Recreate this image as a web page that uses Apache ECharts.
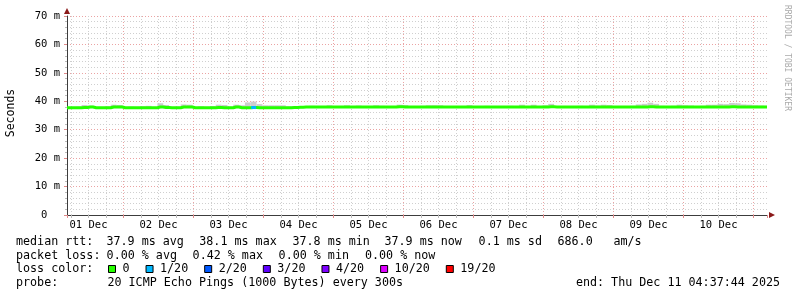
<!DOCTYPE html>
<html><head><meta charset="utf-8">
<script src="https://cdn.jsdelivr.net/npm/echarts@6/dist/echarts.min.js"></script>
<style>html,body{margin:0;padding:0;background:#fff}#c{width:797px;height:297px}</style>
</head><body><div id="c"></div>
<script>
// time axis in hours since 01 Dec 00:00
const START_HOUR = 4 + 37/60 + 44/3600;   // 01 Dec 04:37:44
const END_HOUR = START_HOUR + 240;         // 11 Dec 04:37:44
const STEP_HOURS = 2;

// median RTT (ms) per 2-hour sample
const median = [
37.75,37.75,37.75,37.8,38.0,37.75,37.75,37.75,38.0,38.0,
37.75,37.75,37.75,37.75,37.75,37.75,38.0,37.8,37.75,37.75,
38.0,38.0,37.75,37.75,37.75,37.75,37.8,37.75,37.75,38.0,
37.75,37.75,37.8,37.75,37.75,37.75,37.75,37.75,37.75,37.8,
37.9,38.0,38.0,38.0,38.0,38.0,38.0,38.0,38.0,38.0,
38.0,38.0,38.0,38.0,38.0,38.0,38.0,38.05,38.0,38.0,
38.0,38.0,38.0,38.0,38.0,38.0,38.0,38.0,38.0,38.0,
38.0,38.0,38.0,38.0,38.0,38.0,38.0,38.0,38.0,38.0,
38.0,38.0,38.0,38.05,38.0,38.0,38.0,38.0,38.0,38.0,
38.0,38.0,38.0,38.0,38.0,38.0,38.0,38.0,38.0,38.0,
38.05,38.0,38.0,38.0,38.0,38.0,38.0,38.0,38.0,38.0,
38.0,38.0,38.0,38.0,38.05,38.0,38.0,38.0,38.0,38.0,
38.0
];
// smoke: highest ping per sample (ms)
const smokeHi = [
38.0,38.0,38.1,38.7,38.5,38.0,38.0,38.2,38.8,38.7,
38.0,38.1,38.0,38.2,38.4,38.0,39.3,38.7,38.0,38.1,
38.9,38.8,38.0,38.2,38.0,38.3,38.8,38.7,38.1,38.8,
38.6,39.6,39.9,39.0,38.6,38.6,38.6,38.6,38.2,38.3,
38.2,38.3,38.4,38.2,38.3,38.6,38.2,38.3,38.6,38.2,
38.5,38.2,38.3,38.6,38.4,38.2,38.3,38.8,38.7,38.2,
38.3,38.4,38.6,38.6,38.6,38.2,38.3,38.2,38.3,38.7,
38.2,38.3,38.4,38.2,38.2,38.3,38.4,38.2,38.8,38.3,
38.8,38.2,38.6,39.1,38.2,38.3,38.2,38.2,38.4,38.3,
38.8,38.5,38.8,38.7,38.2,38.3,38.2,38.4,38.9,39.1,
39.5,39.1,38.4,38.2,38.4,38.8,38.6,38.5,38.3,38.4,
38.8,38.8,39.1,39.0,39.4,39.3,38.9,38.8,38.6,38.5,
38.4
];
// smoke: lowest ping per sample (ms)
const smokeLo = [
37.5,37.5,37.5,37.5,37.6,37.5,37.5,37.5,37.6,37.6,
37.5,37.5,37.5,37.5,37.5,37.5,37.6,37.5,37.5,37.5,
37.6,37.6,37.5,37.5,37.5,37.5,37.5,37.5,37.5,37.6,
37.5,37.5,37.5,37.5,37.5,37.5,37.5,37.5,37.5,37.5,
37.6,37.8,37.8,37.8,37.8,37.8,37.8,37.8,37.8,37.8,
37.8,37.8,37.8,37.8,37.8,37.8,37.8,37.8,37.8,37.8,
37.8,37.8,37.8,37.8,37.8,37.8,37.8,37.8,37.8,37.8,
37.8,37.8,37.8,37.8,37.8,37.8,37.8,37.8,37.8,37.8,
37.8,37.8,37.8,37.8,37.8,37.8,37.8,37.8,37.8,37.8,
37.8,37.8,37.8,37.8,37.8,37.8,37.8,37.8,37.8,37.8,
37.8,37.8,37.8,37.8,37.8,37.8,37.8,37.8,37.8,37.8,
37.8,37.8,37.8,37.8,37.8,37.8,37.8,37.8,37.8,37.8,
37.8
];
// [sample index, lost pings out of 20]
const lossEvents = [[32, 1]];

const dayLabels = ['01 Dec','02 Dec','03 Dec','04 Dec','05 Dec','06 Dec','07 Dec','08 Dec','09 Dec','10 Dec'];
const yTickLabels = ['0  ','10 m','20 m','30 m','40 m','50 m','60 m','70 m'];
const lossNames  = ['0','1/20','2/20','3/20','4/20','10/20','19/20'];
const lossCounts = [0,1,2,3,4,10,19];
const lossColors = ['#26ff00','#00b8ff','#0059ff','#5e00ff','#7e00ff','#dd00ff','#ff0000'];
const rttItems  = ['median rtt:', '37.9 ms avg', '38.1 ms max', '37.8 ms min', '37.9 ms now', '0.1 ms sd', '686.0', 'am/s'];
const lossItems = ['packet loss:', '0.00 % avg', '0.42 % max', '0.00 % min', '0.00 % now'];
const lossTitle = 'loss color:';
const probeText = 'probe:       20 ICMP Echo Pings (1000 Bytes) every 300s';
const endText = 'end: Thu Dec 11 04:37:44 2025';
const yTitle = 'Seconds';
const credit = 'RRDTOOL / TOBI OETIKER';

// layout (pixel positions of the legend text pieces)
const rttX  = [16, 106.5, 199.3, 292.5, 384.5, 478.6, 557.5, 613.5];
const lossX = [16, 106.6, 192.6, 278.6, 365];

const MONO = '"DejaVu Sans Mono", monospace';
const TXT = '11.7px ' + MONO;
const xs = median.map((_, i) => START_HOUR + i * STEP_HOURS);

const series = [
  { name: 'smoke', type: 'custom', silent: true, clip: true,
    data: xs.map((x, i) => [x, smokeLo[i], smokeHi[i]]),
    encode: { x: 0, y: [1, 2] },
    renderItem: (params, api) => {
      const x = api.value(0);
      const p1 = api.coord([x - STEP_HOURS / 2, api.value(2)]);
      const p2 = api.coord([x + STEP_HOURS / 2, api.value(1)]);
      const cs = params.coordSys;
      const l = Math.max(p1[0], cs.x), r = Math.min(p2[0], cs.x + cs.width);
      return { type: 'rect', shape: { x: l, y: p1[1], width: Math.max(0, r - l), height: p2[1] - p1[1] },
               style: { fill: '#cdcdcd' } };
    } },
  { name: lossNames[0], type: 'line', step: 'middle', symbol: 'none',
    itemStyle: { color: lossColors[0] }, lineStyle: { width: 3, color: lossColors[0] },
    data: xs.map((x, i) => [x, median[i]]) }
];
for (let k = 1; k < lossNames.length; k++) {
  series.push({
    name: lossNames[k], type: 'line', symbol: 'rect', symbolSize: [5, 3], showSymbol: true, showAllSymbol: true,
    itemStyle: { color: lossColors[k] }, lineStyle: { width: 3, color: lossColors[k] },
    data: lossEvents.filter(e => e[1] === lossCounts[k]).map(e => [xs[e[0]], median[e[0]]])
  });
}

const gridMajor = '#eba3a3', gridMinor = '#cfcfcf', axisCol = '#3c3c3c', arrowCol = '#8b1a1a';

const graphics = [
  { type: 'text', x: 11, y: 113, rotation: Math.PI / 2, silent: true,
    style: { text: yTitle, font: '11.5px ' + MONO, fill: '#000', align: 'center', verticalAlign: 'middle' } },
  { type: 'text', x: 787, y: 5, rotation: -Math.PI / 2, silent: true,
    style: { text: credit, font: '8px ' + MONO, fill: '#aaaaaa', align: 'left', verticalAlign: 'middle' } },
  { type: 'text', x: 16, y: 269.4, silent: true,
    style: { text: lossTitle, font: TXT, fill: '#000', align: 'left', verticalAlign: 'middle' } },
  { type: 'text', x: 16, y: 283, silent: true,
    style: { text: probeText, font: TXT, fill: '#000', align: 'left', verticalAlign: 'middle' } },
  { type: 'text', x: 780, y: 283, silent: true,
    style: { text: endText, font: TXT, fill: '#000', align: 'right', verticalAlign: 'middle' } }
];
rttItems.forEach((t, i) => graphics.push({ type: 'text', x: rttX[i], y: 242, silent: true,
  style: { text: t, font: TXT, fill: '#000', align: 'left', verticalAlign: 'middle' } }));
lossItems.forEach((t, i) => graphics.push({ type: 'text', x: lossX[i], y: 255.7, silent: true,
  style: { text: t, font: TXT, fill: '#000', align: 'left', verticalAlign: 'middle' } }));

const chart = echarts.init(document.getElementById('c'), null, { renderer: 'canvas' });
chart.setOption({
  animation: false,
  backgroundColor: '#fff',
  grid: { left: 67, right: 30, top: 16, bottom: 82, containLabel: false },
  xAxis: [
    { type: 'value', position: 'bottom', offset: 0, min: START_HOUR, max: END_HOUR,
      minInterval: 6, maxInterval: 6, splitNumber: 40,
      axisLine: { show: true, onZero: false, lineStyle: { color: axisCol, width: 1 } },
      axisTick: { show: true, length: 3, lineStyle: { color: '#bbbbbb' } },
      axisLabel: { show: false },
      splitLine: { show: true, showMinLine: false, showMaxLine: false, lineStyle: { color: gridMinor, type: [1, 2] } } },
    { type: 'value', position: 'bottom', offset: 0, min: START_HOUR, max: END_HOUR,
      minInterval: 24, maxInterval: 24, splitNumber: 10,
      axisLine: { show: true, onZero: false, symbol: ['none', 'triangle'], symbolSize: [6, 6], symbolOffset: [0, 5],
        lineStyle: { color: arrowCol, width: 0 } },
      axisTick: { show: true, length: 3, lineStyle: { color: '#e08a8a' } },
      axisLabel: { show: false },
      splitLine: { show: true, showMinLine: false, showMaxLine: false, lineStyle: { color: gridMajor, type: [1, 2] } } },
    { type: 'value', position: 'bottom', offset: 0, min: START_HOUR + 12, max: END_HOUR + 12,
      minInterval: 24, maxInterval: 24, splitNumber: 10,
      axisLine: { show: false }, axisTick: { show: false }, splitLine: { show: false },
      axisLabel: { show: true, margin: 5, showMinLabel: false, showMaxLabel: false,
        fontFamily: MONO, fontSize: 10.5, color: '#000',
        formatter: v => { const k = Math.round(v / 24); return Math.abs(v - k * 24) < 1e-6 && k >= 1 && k <= dayLabels.length ? dayLabels[k - 1] : ''; } } }
  ],
  yAxis: [
    { type: 'value', position: 'left', min: 0, max: 70, interval: 10,
      axisLine: { show: true, onZero: false, lineStyle: { color: axisCol, width: 1 } },
      axisTick: { show: true, length: 3, lineStyle: { color: '#e08a8a' } },
      minorTick: { show: true, splitNumber: 5, length: 2, lineStyle: { color: '#bbbbbb' } },
      axisLabel: { margin: 7, fontFamily: MONO, fontSize: 10.5, color: '#000',
        formatter: v => yTickLabels[Math.round(v / 10)] },
      splitLine: { show: true, lineStyle: { color: gridMajor, type: [1, 2] } },
      minorSplitLine: { show: true, lineStyle: { color: gridMinor, type: [1, 2] } } },
    { type: 'value', position: 'left', offset: 0, min: 0, max: 70, interval: 10,
      axisLine: { show: true, onZero: false, symbol: ['none', 'triangle'], symbolSize: [6, 6], symbolOffset: [0, 5],
        lineStyle: { color: arrowCol, width: 0 } },
      axisTick: { show: false }, axisLabel: { show: false }, splitLine: { show: false } }
  ],
  legend: {
    data: lossNames, left: 108, top: 263, padding: 0, icon: 'rect',
    itemWidth: 7, itemHeight: 7, itemGap: 16, selectedMode: false,
    itemStyle: { borderColor: '#000', borderWidth: 1 },
    textStyle: { fontFamily: MONO, fontSize: 11.7, color: '#000', padding: [0, 0, 0, 2] }
  },
  graphic: graphics,
  series: series
});
</script>
</body></html>
